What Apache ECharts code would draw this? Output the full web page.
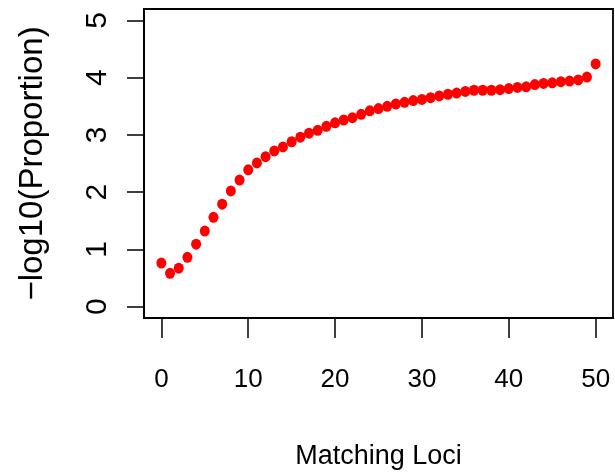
<!DOCTYPE html>
<html>
<head>
<meta charset="utf-8">
<script src="https://cdn.jsdelivr.net/npm/echarts@6/dist/echarts.min.js"></script>
<style>
  html, body { margin: 0; padding: 0; background: #fff; }
  #chart { width: 615px; height: 475px; }
</style>
</head>
<body>
<div id="chart"></div>
<script>
// matching loci 0..50 and their -log10(proportion)
const loci = [];
for (let i = 0; i <= 50; i++) loci.push(i);
const negLogProp = [
  0.76, 0.58, 0.67, 0.86, 1.09, 1.32, 1.56, 1.79, 2.02, 2.21,
  2.39, 2.51, 2.62, 2.72, 2.79, 2.88, 2.96, 3.03, 3.08, 3.15,
  3.21, 3.26, 3.30, 3.36, 3.42, 3.46, 3.50, 3.54, 3.57, 3.60,
  3.62, 3.65, 3.68, 3.71, 3.73, 3.76, 3.78, 3.78, 3.78, 3.79,
  3.81, 3.83, 3.84, 3.88, 3.90, 3.91, 3.93, 3.94, 3.96, 4.01,
  4.24
];
const xTicks = [0, 10, 20, 30, 40, 50];
const yTicks = [0, 1, 2, 3, 4, 5];

const sans = 'Liberation Sans, Arial, sans-serif';

const chart = echarts.init(document.getElementById('chart'));
chart.setOption({
  animation: false,
  grid: {
    left: 144, right: 2, top: 9, bottom: 157,
    show: true, borderColor: '#000', borderWidth: 1.8
  },
  xAxis: {
    type: 'value',
    min: -2, max: 52,
    name: 'Matching Loci',
    nameLocation: 'middle',
    nameGap: 125,
    nameTextStyle: { fontFamily: sans, fontSize: 27, color: '#000' },
    axisLine: { show: true, onZero: false, lineStyle: { color: '#000', width: 1.8 } },
    splitLine: { show: false },
    axisTick: { show: true, length: 20, customValues: xTicks, lineStyle: { color: '#000', width: 1.5 } },
    axisLabel: { customValues: xTicks, margin: 49, fontFamily: sans, fontSize: 26, color: '#000' }
  },
  yAxis: {
    type: 'value',
    min: -0.2, max: 5.2,
    name: '\u2212log10(Proportion)',
    nameLocation: 'middle',
    nameRotate: 90,
    nameGap: 95,
    nameTextStyle: { fontFamily: sans, fontSize: 33, color: '#000' },
    axisLine: { show: true, onZero: false, lineStyle: { color: '#000', width: 1.8 } },
    splitLine: { show: false },
    axisTick: { show: true, length: 17, customValues: yTicks, lineStyle: { color: '#000', width: 1.5 } },
    axisLabel: { customValues: yTicks, rotate: 90, margin: 31, fontFamily: sans, fontSize: 30, color: '#000' }
  },
  series: [{
    type: 'scatter',
    data: loci.map((x, i) => [x, negLogProp[i]]),
    symbol: 'circle',
    symbolSize: [10, 11],
    itemStyle: { color: '#ff0000', opacity: 1 }
  }]
});
</script>
</body>
</html>
